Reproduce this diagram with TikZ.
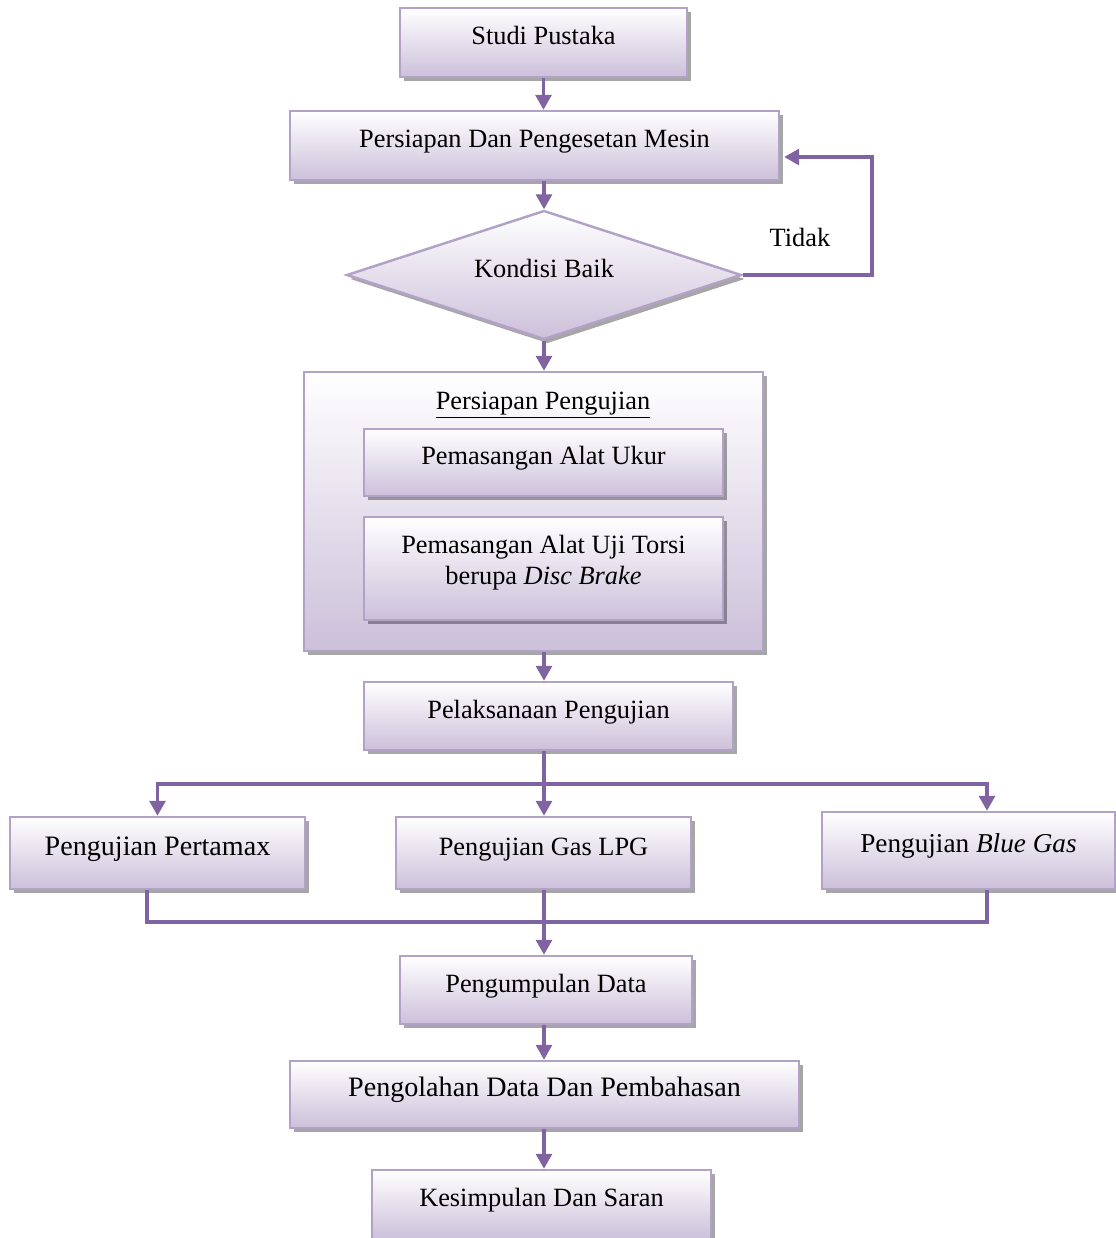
\documentclass[tikz,border=0pt]{standalone}
\usepackage{fontspec}
\setmainfont{Liberation Serif}
\usetikzlibrary{shapes.geometric,arrows.meta,shadows}
\definecolor{boxline}{HTML}{B3A2C7}
\definecolor{boxfill}{HTML}{CCC0DA}
\definecolor{linkcol}{HTML}{8064A2}

\begin{document}
\begin{tikzpicture}[every node/.style={inner sep=0cm, font=\fontsize{15}{17.6}\selectfont},
	flowbox/.style={rectangle, draw=boxline, line width=1.4pt, top color=white, bottom color=boxfill,
		drop shadow={shadow xshift=0.07cm, shadow yshift=-0.08cm, fill=black, opacity=0.35}},
	stepbox/.style={flowbox, text height=0.34cm, text depth=0.26cm},
	arr/.style={draw=linkcol, line width=1.8pt, -{Triangle[width=0.32cm,length=0.3cm]}},
	link/.style={draw=linkcol, line width=1.8pt}]
					\useasboundingbox (0,0) rectangle (22.3,-24.76);
					\node (1) at (10.87,-0.85) [stepbox, minimum width=5.74cm, minimum height=1.38cm] {Studi Pustaka};
					\node (2) at (10.69,-2.91) [stepbox, minimum width=9.78cm, minimum height=1.38cm] {Persiapan Dan Pengesetan Mesin};
					\node (3) at (10.88,-5.5) [stepbox, diamond, aspect=3, minimum width=7.9cm, minimum height=2.58cm] {Kondisi Baik};
					\node (t) at (16.0,-4.74) {Tidak};
					\node (4) at (10.67,-10.23) [flowbox, minimum width=9.18cm, minimum height=5.58cm] {};
					\node (4t) at (10.86,-8.18) [anchor=base] {\underline{Persiapan Pengujian}};
					\node (5) at (10.87,-9.25) [stepbox, minimum width=7.18cm, minimum height=1.34cm] {Pemasangan Alat Ukur};
					\node (6) at (10.87,-11.37) [flowbox, align=center, minimum width=7.18cm, minimum height=2.06cm] {Pemasangan Alat Uji Torsi\\berupa \textit{Disc Brake}\rule[-0.36cm]{0pt}{0.36cm}};
					\node (7) at (10.97,-14.32) [stepbox, minimum width=7.38cm, minimum height=1.36cm] {Pelaksanaan Pengujian};
					\node (8) at (3.15,-17.06) [stepbox, minimum width=5.9cm, minimum height=1.44cm, font=\fontsize{16}{19}\selectfont] {Pengujian Pertamax};
					\node (9) at (10.87,-17.06) [stepbox, minimum width=5.9cm, minimum height=1.44cm] {Pengujian Gas LPG};
					\node (10) at (19.37,-17.01) [stepbox, minimum width=5.86cm, minimum height=1.54cm, font=\fontsize{15.5}{18}\selectfont] {Pengujian \textit{Blue Gas}};
					\node (11) at (10.92,-19.8) [stepbox, minimum width=5.84cm, minimum height=1.36cm] {Pengumpulan Data};
					\node (12) at (10.89,-21.89) [stepbox, minimum width=10.18cm, minimum height=1.34cm, font=\fontsize{16}{19}\selectfont] {Pengolahan Data Dan Pembahasan};
					\node (13) at (10.83,-24.09) [stepbox, minimum width=6.78cm, minimum height=1.38cm] {Kesimpulan Dan Saran};
					
					\coordinate (r) at (17.44,-3.14);
					\coordinate (b) at (10.88,-15.68);
					\coordinate (m) at (10.88,-18.44);
					
					\draw[arr] (1) -- (1 |- 2.north);
					\draw[arr] (3 |- 2.south) -- (3);
					\draw[arr] (3.east) -| (r) -- ([xshift=0.08cm]2.east |- r);
					\draw[arr] (3) -- (3 |- 4.north);
					\draw[arr] (3 |- 4.south) -- (3 |- 7.north);
					\draw[link] (3 |- 7.south) -- (b);
					\draw[arr] (b) -| (8);
					\draw[arr] (b) -- (b |- 9.north);
					\draw[arr] (b) -| ([xshift=0.37cm]10.north);
					\draw[link] ([xshift=-0.21cm]8.south) |- (m);
					\draw[link] ([xshift=0.37cm]10.south) |- (m);
					\draw[arr] (3 |- 9.south) -- (3 |- 11.north);
					\draw[arr] (3 |- 11.south) -- (3 |- 12.north);
					\draw[arr] (3 |- 12.south) -- (3 |- 13.north);
					
				\end{tikzpicture}
\end{document}
